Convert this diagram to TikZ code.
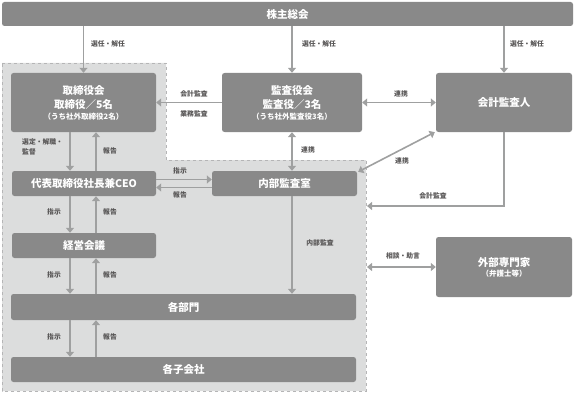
\documentclass[tikz,border=0pt]{standalone}
\usepackage{fontspec}
\setmainfont{Noto Sans CJK JP}
\usetikzlibrary{arrows.meta}
\definecolor{boxgray}{HTML}{898989}
\definecolor{areagray}{HTML}{DCDDDD}
\definecolor{edgegray}{HTML}{B5B5B6}
\definecolor{arrgray}{HTML}{9FA0A0}
\definecolor{lblgray}{HTML}{595757}
\begin{document}
\begin{tikzpicture}[x=1pt,y=-1pt,
    box/.style={fill=boxgray,rounded corners=2.5pt,text=white,align=center,inner sep=0pt,
        font=\bfseries\fontsize{10.5}{14}\selectfont},
    arr/.style={draw=arrgray,line width=1.6pt,-{Triangle[length=5pt,width=8pt]}},
    dbl/.style={draw=arrgray,line width=1.6pt,{Triangle[length=5pt,width=8pt]}-{Triangle[length=5pt,width=8pt]}},
    lbl/.style={text=lblgray,inner sep=0pt,font=\bfseries\fontsize{6.8}{10}\selectfont}]
    \useasboundingbox (0,0) rectangle (575,393);

    \filldraw[fill=areagray,draw=edgegray,dashed,line width=0.8pt]
        (2,63) -- (166,63) -- (166,160) -- (366,160) -- (366,391) -- (2,391) -- cycle;

    \node[box,minimum width=571pt,minimum height=24pt] (top) at (287.5,14) {株主総会};
    \node[box,minimum width=145pt,minimum height=59pt] (board) at (83.5,102.5)
        {取締役会\\取締役／5名\\[-3pt]{\fontsize{7.5}{9}\selectfont（うち社外取締役2名）}};
    \node[box,minimum width=140pt,minimum height=59pt] (kansa) at (292,102.5)
        {監査役会\\監査役／3名\\[-3pt]{\fontsize{7.5}{9}\selectfont（うち社外監査役3名）}};
    \node[box,minimum width=136pt,minimum height=59pt] (auditor) at (504,102.5) {会計監査人};
    \node[box,minimum width=144pt,minimum height=25pt] (ceo) at (84,183.5) {代表取締役社長兼CEO};
    \node[box,minimum width=145pt,minimum height=25pt] (naibu) at (284.5,183.5) {内部監査室};
    \node[box,minimum width=144pt,minimum height=25pt] (keiei) at (84,245.5) {経営会議};
    \node[box,minimum width=345pt,minimum height=26pt] (bumon) at (183.5,307) {各部門};
    \node[box,minimum width=345pt,minimum height=25pt] (kogaisha) at (183.5,369.5) {各子会社};
    \node[box,minimum width=136pt,minimum height=60pt] (expert) at (504,267)
        {外部専門家\\[-4pt]{\fontsize{7.5}{9}\selectfont（弁護士等）}};

    \coordinate (dn) at (70,0);
    \coordinate (up) at (96,0);
    \coordinate (gedge1) at (367,206);
    \coordinate (gedge2) at (367,267);

    \foreach \n in {board,kansa,auditor}
        \draw[arr] (top.south -| \n) -- (\n.north);
    \foreach \a/\b in {board/ceo,ceo/keiei,keiei/bumon,bumon/kogaisha} {
        \draw[arr] (\a.south -| dn) -- (\b.north -| dn);
        \draw[arr] (\b.north -| up) -- (\a.south -| up);
    }
    \draw[arr] (kansa.west) -- (board.east);
    \draw[dbl] (kansa.east) -- (auditor.west);
    \draw[dbl] (kansa.south) -- (kansa.south |- naibu.north);
    \draw[dbl] ([xshift=-1pt]auditor.south west) -- ([shift={(1pt,-1pt)}]naibu.north east);
    \draw[arr] ([yshift=4pt]ceo.east) -- ([yshift=4pt]ceo.east -| naibu.west);
    \draw[arr] ([yshift=-4pt]ceo.east -| naibu.west) -- ([yshift=-4pt]ceo.east);
    \draw[arr] (naibu.south -| kansa.south) -- (bumon.north -| kansa.south);
    \draw[arr] (auditor.south) |- (gedge1);
    \draw[dbl] (gedge2) -- (expert.west);

    \foreach \x in {108,319,527}
        \node[lbl] at (\x,44) {選任・解任};
    \node[lbl] at (194,94) {会計監査};
    \node[lbl] at (194,114) {業務監査};
    \node[lbl] at (401,94) {連携};
    \node[lbl,anchor=west,align=left] at (22,147) {選定・解職・\\監督};
    \node[lbl] at (110,151) {報告};
    \node[lbl] at (180,171) {指示};
    \node[lbl] at (180,195) {報告};
    \node[lbl] at (308,150) {連携};
    \node[lbl] at (402,161) {連携};
    \node[lbl] at (433,196) {会計監査};
    \node[lbl] at (320,243) {内部監査};
    \node[lbl] at (403,256) {相談・助言};
    \foreach \y in {212,275,337} {
        \node[lbl] at (54,\y) {指示};
        \node[lbl] at (110,\y) {報告};
    }
\end{tikzpicture}
\end{document}
